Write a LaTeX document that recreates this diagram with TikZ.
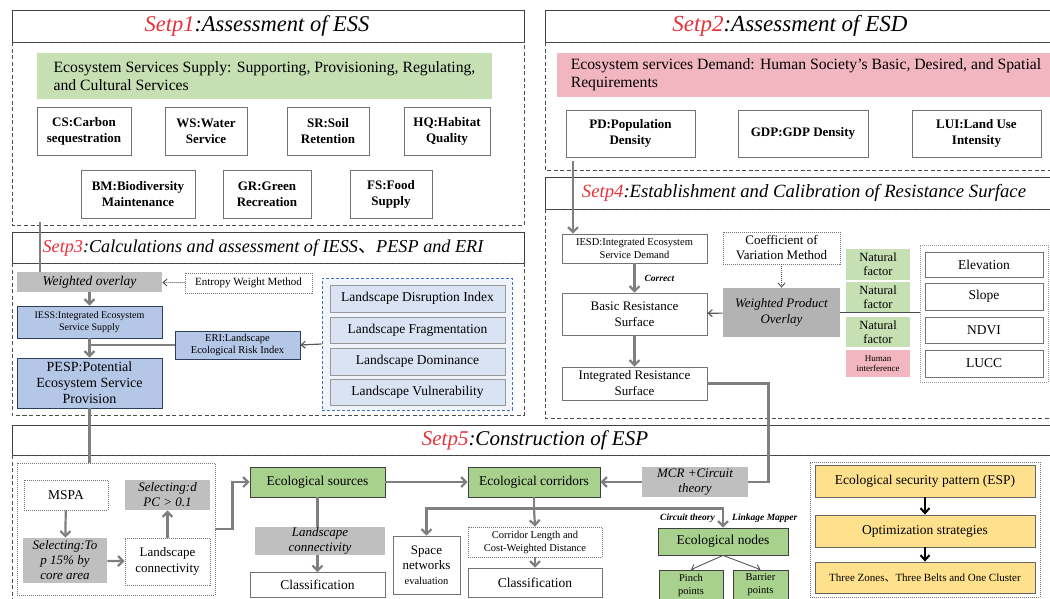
\documentclass[tikz,border=0pt]{standalone}
\usepackage{fontspec}
\setmainfont{Liberation Serif}
\newfontfamily\cjk{Noto Sans CJK SC}
\usetikzlibrary{arrows.meta, positioning}
\definecolor{figred}{HTML}{E5323B}
\definecolor{figgrey}{HTML}{7F7F7F}
\definecolor{figlgreen}{HTML}{C6E0B4}
\definecolor{figgreen}{HTML}{A9D18E}
\definecolor{figpink}{HTML}{F2B6C0}
\definecolor{figblue}{HTML}{B4C7E7}
\definecolor{figdblue}{HTML}{2F3E5C}
\definecolor{figlblue}{HTML}{DAE3F3}
\definecolor{figframe}{HTML}{4472C4}
\definecolor{figgray}{HTML}{BFBFBF}
\definecolor{figdgray}{HTML}{B3B3B3}
\definecolor{figyellow}{HTML}{FFE08C}
\newcommand{\fs}[2]{\fontsize{#1}{#2}\selectfont}
\tikzset{
  figbox/.style={draw=black!55, fill=white, align=center, inner sep=1pt,
    line width=0.8pt, font=\fs{13.5}{16}},
  boldbox/.style={figbox, font=\fs{13}{16}\bfseries},
  dotbox/.style={figbox, dash pattern=on 1pt off 1pt},
  sgreen/.style={fill=figlgreen, draw=none},
  sdgreen/.style={fill=figgreen, draw=black!75},
  spink/.style={fill=figpink, draw=none},
  sblue/.style={fill=figblue, draw=figdblue},
  slblue/.style={fill=figlblue, draw=black!40},
  sgray/.style={fill=figgray, draw=none, font=\fs{13.5}{16}\itshape},
  syellow/.style={fill=figyellow, draw=black!60},
  figtitle/.style={font=\fs{#1}{24}\itshape, inner sep=0pt},
  titlebox/.style={draw=black!75, line width=1pt},
  stepframe/.style={draw=black!70, line width=1pt, dash pattern=on 4pt off 2.5pt},
  figarrow/.style={-{Straight Barb[length=5pt, width=10pt]}, line width=2.2pt, figgrey},
  figline/.style={line width=2.2pt, figgrey},
  thinarrow/.style={-{Straight Barb[length=4pt, width=7pt]}, line width=1.2pt, black!65},
  dotarrow/.style={-{Straight Barb[length=4pt, width=7pt]}, line width=0.9pt, black!70,
    dash pattern=on 1pt off 1pt},
  blackarrow/.style={-{Straight Barb[length=5pt, width=9pt]}, line width=2pt, black},
  figlabel/.style={font=\fs{9.5}{11}\bfseries\itshape, text=black, inner sep=1pt},
}

\begin{document}
\begin{tikzpicture}[x=1pt, y=-1pt]
  \useasboundingbox (0,0) rectangle (1050,598);
  \clip (0,0) rectangle (1050,598);
  % Schritt 1
  \draw[titlebox] (12,10) rectangle (524,42);
  \node[figtitle=22.5] (t1) at (257,26) {{\color{figred}Setp1}:Assessment of ESS};
  \draw[stepframe] (12,42) rectangle (524,225);
  \node[figbox, sgreen, align=left, minimum width=455, minimum height=46,
    font=\fs{15.7}{18}] (ess) at (264.5,76)
    {Ecosystem Services Supply: Supporting, Provisioning, Regulating,\\and Cultural Services};
  \node[boldbox, minimum width=94, minimum height=48] (cs) at (84,131) {CS:Carbon\\sequestration};
  \node[boldbox, minimum width=82, minimum height=48] (ws) at (206,131) {WS:Water\\Service};
  \node[boldbox, minimum width=82, minimum height=48] (sr) at (328,131) {SR:Soil\\Retention};
  \node[boldbox, minimum width=86, minimum height=48] (hq) at (447,131) {HQ:Habitat\\Quality};
  \node[boldbox, minimum width=114, minimum height=48] (bm) at (138,194) {BM:Biodiversity\\Maintenance};
  \node[boldbox, minimum width=88, minimum height=48] (gr) at (267,194) {GR:Green\\Recreation};
  \node[boldbox, minimum width=82, minimum height=48] (fs) at (391,194) {FS:Food\\Supply};
  % Schritt 2
  \draw[titlebox] (545,10) rectangle (1060,42);
  \node[figtitle=23] (t2) at (790,26) {{\color{figred}Setp2}:Assessment of ESD};
  \draw[stepframe] (545,42) rectangle (1060,170);
  \node[figbox, spink, align=left, minimum width=498, minimum height=44,
    font=\fs{15.7}{18}] (esd) at (806,75)
    {Ecosystem services Demand: Human Society's Basic, Desired, and Spatial\\Requirements};
  \node[boldbox, minimum width=129, minimum height=47] (pd) at (630.5,133.5) {PD:Population\\Density};
  \node[boldbox, minimum width=130, minimum height=47] (gdp) at (803,133.5) {GDP:GDP Density};
  \node[boldbox, minimum width=129, minimum height=47] (lui) at (976.5,133.5) {LUI:Land Use\\Intensity};
  % Schritt 4
  \draw[titlebox] (545,177) rectangle (1060,209);
  \node[figtitle=18.7] (t4) at (804,193) {{\color{figred}Setp4}:Establishment and Calibration of Resistance Surface};
  \draw[stepframe] (545,209) rectangle (1060,418);
  \node[figbox, minimum width=145, minimum height=29, font=\fs{10.5}{13}] (iesd) at (634.5,248.5)
    {IESD:Integrated Ecosystem\\Service Demand};
  \node[figbox, minimum width=145, minimum height=42, font=\fs{13}{16}] (basic) at (634.5,314)
    {Basic Resistance\\Surface};
  \node[figbox, minimum width=145, minimum height=33, font=\fs{13}{16}] (irs) at (634.5,383.5)
    {Integrated Resistance\\Surface};
  \node[dotbox, minimum width=117, minimum height=32, font=\fs{13}{15}] (cov) at (781.5,248)
    {Coefficient of\\Variation Method};
  \node[figbox, sgray, fill=figdgray, minimum width=117, minimum height=49, font=\fs{13}{16}\itshape]
    (wpo) at (781.5,312.5) {Weighted Product\\Overlay};
  \node[draw=black!40, dash pattern=on 1pt off 1pt, minimum width=128, minimum height=137]
    (fframe) at (984,313.5) {};
  \draw[line width=1pt, black!70] (wpo.east) -- (fframe.west |- wpo.east);
  \node[figbox, sgreen, minimum width=64, minimum height=31, font=\fs{12.5}{14}] (nf1) at (878,264.5) {Natural\\factor};
  \node[figbox, sgreen, minimum width=64, minimum height=30, font=\fs{12.5}{14}] (nf2) at (878,297) {Natural\\factor};
  \node[figbox, sgreen, minimum width=64, minimum height=30, font=\fs{12.5}{14}] (nf3) at (878,332) {Natural\\factor};
  \node[figbox, spink, minimum width=64, minimum height=27, font=\fs{9}{10}] (hi) at (878,363.5) {Human\\interference};
  \node[figbox, minimum width=118, minimum height=25] (elev) at (984,264.5) {Elevation};
  \node[figbox, minimum width=118, minimum height=27] (slope) at (984,296.5) {Slope};
  \node[figbox, minimum width=118, minimum height=26] (ndvi) at (984,330) {NDVI};
  \node[figbox, minimum width=118, minimum height=27] (lucc) at (984,363.5) {LUCC};
  \coordinate (esdout) at (573,161);
  \draw[figarrow] (esdout) -- (esdout |- iesd.north);
  \draw[figarrow] (iesd) -- (basic) node[midway, right=8pt, figlabel] {Correct};
  \draw[figarrow] (basic) -- (irs);
  \draw[dotarrow] (cov) -- (wpo);
  \draw[thinarrow] (wpo) -- (basic);
  % Schritt 3
  \draw[titlebox] (12,232) rectangle (524,263);
  \node[figtitle=18.2] (t3) at (263,248) {{\color{figred}Setp3}:Calculations and assessment of IESS{\cjk 、}PESP and ERI};
  \draw[stepframe] (12,263) rectangle (524,415);
  \node[figbox, sgray, minimum width=145, minimum height=20] (wover) at (89.5,282) {Weighted overlay};
  \node[dotbox, minimum width=127, minimum height=20, font=\fs{11}{13}] (entropy) at (248.5,283) {Entropy Weight Method};
  \node[figbox, sblue, minimum width=145, minimum height=32, font=\fs{10}{12}] (iess) at (89.5,322)
    {IESS:Integrated Ecosystem\\Service Supply};
  \node[figbox, sblue, minimum width=145, minimum height=50, font=\fs{14}{16}] (pesp) at (89.5,383)
    {PESP:Potential\\Ecosystem Service\\Provision};
  \node[figbox, sblue, minimum width=125, minimum height=28, font=\fs{10.5}{12.5}] (eri) at (237.5,345)
    {ERI:Landscape\\Ecological Risk Index};
  \node[draw=figframe, line width=1pt, dash pattern=on 3pt off 2pt, fill=figlblue!40,
    minimum width=190, minimum height=132] (ldframe) at (417,344) {};
  \node[figbox, slblue, minimum width=175, minimum height=27] (ld1) at (417.5,298.5) {Landscape Disruption Index};
  \node[figbox, slblue, minimum width=175, minimum height=26] (ld2) at (417.5,330) {Landscape Fragmentation};
  \node[figbox, slblue, minimum width=175, minimum height=27] (ld3) at (417.5,361.5) {Landscape Dominance};
  \node[figbox, slblue, minimum width=175, minimum height=26] (ld4) at (417.5,392) {Landscape Vulnerability};
  \coordinate (essout) at (40,222);
  \draw[figline] (essout) -- (essout |- wover.north);
  \draw[dotarrow] (entropy) -- (wover);
  \draw[figarrow] (wover) -- (iess);
  \draw[figarrow] (iess) -- (pesp);
  \draw[figline] (eri.west) -- (iess.south |- eri.west);
  \draw[thinarrow] (ldframe.west) -- (eri.east);
  % Schritt 5
  \draw[titlebox] (12,425) rectangle (1060,455);
  \node[figtitle=21] (t5) at (535,440) {{\color{figred}Setp5}:Construction of ESP};
  \draw[stepframe] (12,455) rectangle (1060,620);
  \node[draw=black!55, dash pattern=on 1pt off 1pt, line width=0.8pt,
    minimum width=198, minimum height=132] (lframe) at (116,529) {};
  \draw[figline] (pesp.south) -- (pesp.south |- lframe.north);
  \node[dotbox, minimum width=84, minimum height=30] (mspa) at (66,495) {MSPA};
  \node[figbox, sgray, minimum width=84, minimum height=45, font=\fs{13}{15}\itshape] (seltop) at (65,560.5)
    {Selecting:To\\p 15\% by\\core area};
  \node[dotbox, minimum width=85, minimum height=47, font=\fs{13}{15.5}] (lconn) at (167.5,561.5)
    {Landscape\\connectivity};
  \node[figbox, sgray, minimum width=85, minimum height=30, font=\fs{13}{15}\itshape] (seldpc) at (167.5,495)
    {Selecting:d\\PC > 0.1};
  \draw[figarrow] (mspa) -- (seltop);
  \draw[figarrow] (seltop) -- (lconn);
  \draw[figarrow] (lconn) -- (seldpc);
  \node[figbox, sdgreen, minimum width=135, minimum height=30] (esrc) at (317.5,482) {Ecological sources};
  \node[figbox, sdgreen, minimum width=132, minimum height=30] (ecorr) at (534,482) {Ecological corridors};
  \node[figbox, sgray, minimum width=106, minimum height=30, font=\fs{13}{15}\itshape] (mcr) at (695,482)
    {MCR +Circuit\\theory};
  \node[figbox, minimum width=135, minimum height=25] (class1) at (317.5,585) {Classification};
  \draw[figarrow] (esrc) -- (class1);
  \node[figbox, sgray, minimum width=130, minimum height=28, font=\fs{13}{15}\itshape] (lconn2) at (320,541)
    {Landscape\\connectivity};
  \node[figbox, minimum width=67, minimum height=58, font=\fs{13}{15}] (snet) at (426.5,565)
    {Space\\networks\\{\fs{10.5}{12}evaluation}};
  \node[dotbox, minimum width=134, minimum height=30, font=\fs{10.5}{13}] (clen) at (535,542)
    {Corridor Length and\\Cost-Weighted Distance};
  \node[figbox, minimum width=134, minimum height=29] (class2) at (535,582.5) {Classification};
  \node[figbox, sdgreen, minimum width=130, minimum height=27] (enodes) at (723,541.5) {Ecological nodes};
  \node[figbox, sdgreen, minimum width=64, minimum height=30, font=\fs{10.5}{13}] (pinch) at (691,585) {Pinch\\points};
  \node[figbox, sdgreen, minimum width=55, minimum height=30, font=\fs{10.5}{13}] (barrier) at (760.5,585) {Barrier\\points};
  \draw[figarrow] (lframe.east) -- ++(17,0) |- (esrc.west);
  \draw[figarrow] (esrc) -- (ecorr);
  \draw[figarrow] (mcr) -- (ecorr);
  \draw[figline] (irs.east) -| ([xshift=20pt]mcr.east) -- (mcr.east);
  \draw[figline] (ecorr.south) -- ++(0,11) coordinate (split);
  \draw[figarrow] (split) -| (snet.north);
  \draw[figarrow] (split) -- (clen.north);
  \draw[figarrow] (split) -| (enodes.north);
  \draw[figarrow] (clen) -- (class2);
  \node[figlabel, anchor=east] (circ) at (716,518) {Circuit theory};
  \node[figlabel, anchor=west] (link) at (731,518) {Linkage Mapper};
  \draw[thinarrow, line width=0.9pt] (enodes.south) -- (pinch.north);
  \draw[thinarrow, line width=0.9pt] (enodes.south) -- (barrier.north);
  \node[draw=black!55, dash pattern=on 1pt off 1pt, line width=0.8pt,
    minimum width=230, minimum height=135] (yframe) at (925,529.5) {};
  \node[figbox, syellow, minimum width=220, minimum height=32] (espb) at (925,481) {Ecological security pattern (ESP)};
  \node[figbox, syellow, minimum width=220, minimum height=32] (optim) at (925,531) {Optimization strategies};
  \node[figbox, syellow, minimum width=220, minimum height=31, font=\fs{11}{13}] (three) at (925,577.5)
    {Three Zones{\cjk 、}Three Belts and One Cluster};
  \draw[blackarrow] (espb) -- (optim);
  \draw[blackarrow] (optim) -- (three);
\end{tikzpicture}
\end{document}
